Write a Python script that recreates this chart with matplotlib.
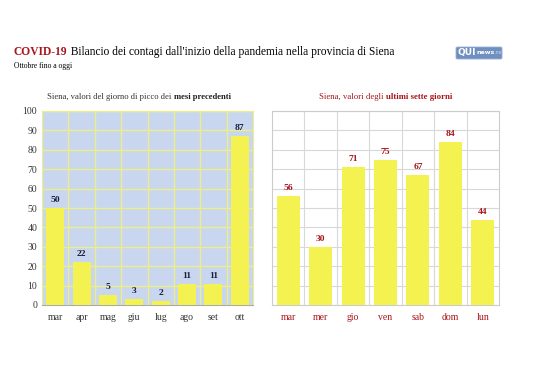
import matplotlib.pyplot as plt
from matplotlib.patches import FancyBboxPatch
from matplotlib.text import Annotation

# dati
mesi = ["mar", "apr", "mag", "giu", "lug", "ago", "set", "ott"]
picco_mesi = [50, 22, 5, 3, 2, 11, 11, 87]
giorni = ["mar", "mer", "gio", "ven", "sab", "dom", "lun"]
ultimi_giorni = [56, 30, 71, 75, 67, 84, 44]
y_ticks = list(range(0, 101, 10))

GIALLO = "#f4f250"
ROSSO = "#a8151b"
BLU_SCURO = "#1c1c3c"

plt.rcParams["font.family"] = ["Liberation Serif", "DejaVu Serif"]

fig = plt.figure(figsize=(5.38, 3.80), dpi=100)
W, H = 538, 380


def box(x0, y0, x1, y1):
    # pixel -> coordinate figura
    return [x0 / W, 1 - y1 / H, (x1 - x0) / W, (y1 - y0) / H]


def dopo(testo, prec, **kw):
    # testo accodato subito dopo un altro testo
    a = Annotation(testo, xy=(1, 0.5), xycoords=prec, va="center", **kw)
    a.set_zorder(5)
    fig.add_artist(a)
    return a


ax1 = fig.add_axes(box(42, 111, 253, 305))
ax2 = fig.add_axes(box(272, 111, 499, 305))

# titolo
t = fig.text(14 / W, 1 - 52 / H, "COVID-19", fontsize=8.3, fontweight="bold",
             color=ROSSO, va="center")
dopo(" Bilancio dei contagi dall'inizio della pandemia nella provincia di Siena", t,
     fontsize=8.3, color="black")
fig.text(14 / W, 1 - 66 / H, "Ottobre fino a oggi", fontsize=5.5, va="center")

# logo
lx0, ly0, lx1, ly1 = 456, 47, 502, 59
logo = FancyBboxPatch((lx0 / W, 1 - ly1 / H), (lx1 - lx0) / W, (ly1 - ly0) / H,
                      boxstyle="round,pad=0,rounding_size=0.003",
                      transform=fig.transFigure, facecolor="#6f8fc0", edgecolor="#9ab0d6", lw=0.6)
fig.patches.append(logo)
q = fig.text(458 / W, 1 - 53 / H, "QUI", fontsize=6.5, fontweight="bold", color="white",
             va="center", family="DejaVu Sans", zorder=5)
n = dopo("news", q, fontsize=4.5, color="white", family="DejaVu Sans", fontweight="bold")
dopo(".net", n, fontsize=3.5, color="#c8d6ee", family="DejaVu Sans")

# grafico di sinistra
x1 = range(len(mesi))
ax1.set_facecolor("#c8d7ef")
ax1.bar(x1, picco_mesi, width=0.68, color=GIALLO, zorder=3)
ax1.set_xlim(-0.5, len(mesi) - 0.5)
ax1.set_ylim(0, 100)
ax1.set_yticks(y_ticks)
ax1.set_xticks(list(x1))
ax1.set_xticklabels(mesi)
ax1.set_xticks([i + 0.5 for i in range(len(mesi) - 1)], minor=True)
ax1.grid(axis="y", which="major", color="#eeee88", lw=1.0, zorder=1)
ax1.grid(axis="x", which="minor", color="#eeee88", lw=1.0, zorder=1)
ax1.tick_params(axis="both", which="both", length=0, labelsize=7, colors="#333333")
ax1.tick_params(axis="x", pad=6)
for s in ["top", "right", "left"]:
    ax1.spines[s].set_color("#eeee88")
ax1.spines["bottom"].set_color("#aaaaaa")
for i, v in enumerate(picco_mesi):
    ax1.text(i, v + 2, str(v), ha="center", va="bottom", fontsize=6.8,
             fontweight="bold", color=BLU_SCURO, zorder=4)

s1 = fig.text(47 / W, 1 - 97 / H, "Siena, valori del giorno di picco dei ",
              fontsize=6.2, color="#333333", va="center")
dopo("mesi precedenti", s1, fontsize=6.2, fontweight="bold", color="#222222")

# grafico di destra
x2 = range(len(giorni))
ax2.bar(x2, ultimi_giorni, width=0.71, color=GIALLO, zorder=3)
ax2.set_xlim(-0.5, len(giorni) - 0.5)
ax2.set_ylim(0, 100)
ax2.set_yticks(y_ticks)
ax2.set_yticklabels([])
ax2.set_xticks(list(x2))
ax2.set_xticklabels(giorni)
ax2.set_xticks([i + 0.5 for i in range(len(giorni) - 1)], minor=True)
ax2.grid(axis="y", which="major", color="#d8d8d8", lw=0.8, zorder=1)
ax2.grid(axis="x", which="minor", color="#d8d8d8", lw=0.8, zorder=1)
ax2.tick_params(axis="both", which="both", length=0, labelsize=7, colors=ROSSO)
ax2.tick_params(axis="x", pad=6)
for s in ax2.spines.values():
    s.set_color("#cccccc")
for i, v in enumerate(ultimi_giorni):
    ax2.text(i, v + 2, str(v), ha="center", va="bottom", fontsize=6.8,
             fontweight="bold", color=ROSSO, zorder=4)

s2 = fig.text(319 / W, 1 - 97 / H, "Siena, valori degli ",
              fontsize=6.3, color=ROSSO, va="center")
dopo("ultimi sette giorni", s2, fontsize=6.3, fontweight="bold", color=ROSSO)

fig.savefig("out.png", dpi=100)
